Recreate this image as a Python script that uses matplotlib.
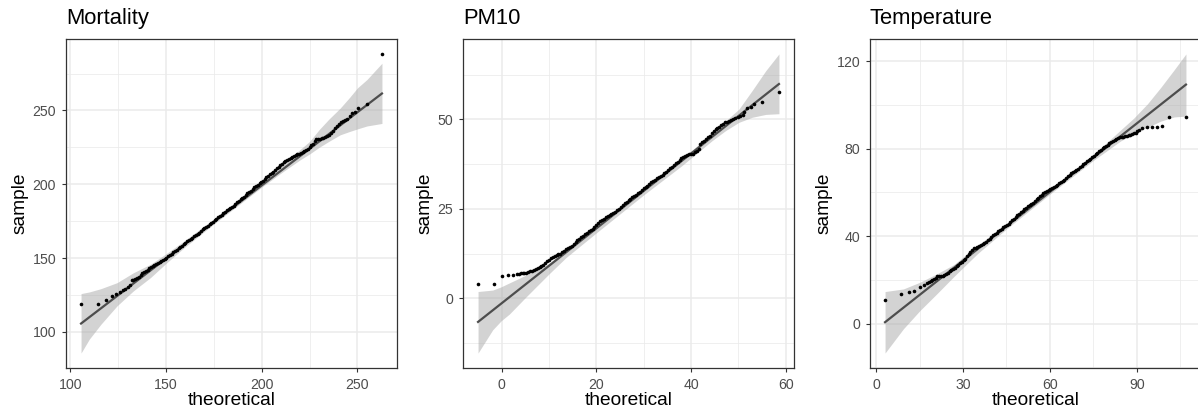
import numpy as np
import matplotlib
matplotlib.use("Agg")
import matplotlib.pyplot as plt
from matplotlib.ticker import MultipleLocator

plt.rcParams['font.family'] = ['Liberation Sans', 'DejaVu Sans']

# ---- Mortality ----
mort_theo = [
    105.7, 114.4, 118.9, 121.7, 124.0, 126.0, 127.6, 128.9, 130.2, 131.3,
    132.1, 133.0, 134.0, 135.0, 135.9, 136.8, 137.7, 138.6, 139.5, 140.4,
    141.3, 142.2, 143.1, 144.0, 144.9, 145.8, 146.7, 147.6, 148.5, 149.4,
    150.3, 151.2, 152.1, 153.0, 153.9, 154.8, 155.7, 156.6, 157.5, 158.4,
    159.3, 160.2, 161.1, 162.0, 162.9, 163.8, 164.7, 165.6, 166.5, 167.4,
    168.3, 169.2, 170.1, 171.0, 171.9, 172.8, 173.7, 174.6, 175.5, 176.4,
    177.3, 178.2, 179.1, 180.0, 180.9, 181.8, 182.7, 183.6, 184.5, 185.4,
    186.3, 187.2, 188.1, 189.0, 189.9, 190.8, 191.7, 192.6, 193.5, 194.4,
    195.3, 196.2, 197.1, 198.0, 198.9, 199.8, 200.7, 201.6, 202.5, 203.4,
    204.3, 205.2, 206.1, 207.0, 207.9, 208.8, 209.7, 210.6, 211.5, 212.4,
    213.3, 214.2, 215.1, 216.0, 216.9, 217.8, 218.7, 219.6, 220.5, 221.4,
    222.3, 223.2, 224.1, 225.0, 225.9, 226.8, 227.7, 228.6, 229.5, 230.4,
    231.3, 232.2, 233.1, 234.0, 235.0, 236.2, 237.3, 238.4, 239.4, 240.4,
    241.3, 242.3, 243.4, 244.6, 245.9, 247.2, 248.6, 250.3, 254.8, 262.8]
mort_sample = [
    119.1, 119.1, 121.4, 124.1, 125.4, 127.2, 128.0, 129.2, 130.4, 131.6,
    135.0, 135.4, 136.0, 136.7, 137.3, 138.4, 139.8, 140.6, 141.4, 142.0,
    143.4, 144.2, 144.8, 145.4, 146.2, 146.8, 147.4, 148.2, 148.8, 149.6,
    150.2, 151.2, 152.0, 152.8, 153.8, 154.8, 155.7, 156.6, 157.6, 158.4,
    159.4, 160.4, 161.4, 162.3, 163.0, 163.8, 164.6, 165.4, 166.2, 167.2,
    168.4, 169.4, 170.4, 171.2, 172.0, 172.8, 173.8, 174.6, 175.6, 176.6,
    177.6, 178.4, 179.2, 180.2, 181.2, 182.4, 183.2, 184.0, 184.6, 185.4,
    186.6, 187.8, 188.8, 189.8, 190.8, 191.6, 192.6, 193.8, 194.6, 195.6,
    196.8, 197.8, 198.8, 199.8, 200.6, 201.4, 202.4, 203.6, 204.8, 205.6,
    206.8, 207.6, 208.6, 209.8, 210.8, 211.8, 213.0, 214.0, 214.8, 215.8,
    216.6, 217.2, 217.8, 218.6, 219.2, 219.8, 220.2, 220.6, 221.2, 221.8,
    222.6, 223.4, 224.2, 225.4, 226.4, 227.6, 229.0, 230.4, 230.8, 231.0,
    231.2, 231.4, 231.8, 232.6, 233.4, 234.6, 236.4, 238.2, 239.2, 240.6,
    242.2, 242.8, 243.4, 244.3, 246.4, 248.2, 249.0, 251.5, 254.3, 288.3]
mort_line_x = [105.7, 262.8]
mort_line_y = [105.6, 261.5]
mort_band_x = [105.7, 110.0, 116.0, 124.5, 133.0, 142.0, 150.0, 160.0, 175.0,
               190.0, 200.0, 210.0, 220.0, 225.0, 230.0, 235.0, 241.0, 246.0,
               250.0, 255.0, 262.8]
mort_band_lo = [85.6, 95.0, 105.0, 117.6, 127.7, 136.8, 146.3, 157.5, 173.0,
                188.0, 198.0, 207.5, 216.5, 220.5, 225.0, 229.0, 233.5, 235.8,
                237.5, 239.5, 241.2]
mort_band_hi = [125.9, 127.0, 129.2, 133.3, 140.0, 145.8, 152.8, 162.0, 176.5,
                191.5, 201.5, 212.0, 223.5, 229.0, 237.0, 244.0, 251.6, 259.0,
                265.3, 271.0, 282.0]

# ---- PM10 ----
pm10_theo = [
    -5.0, -1.55, 0.08, 1.41, 2.32, 3.16,
    3.6, 4.0, 4.4, 4.8, 5.2, 5.6, 6.0, 6.4, 6.8, 7.2, 7.6, 8.0, 8.4, 8.8,
    9.2, 9.6, 10.0, 10.4, 10.8, 11.2, 11.6, 12.0, 12.4, 12.8, 13.2, 13.6,
    14.0, 14.4, 14.8, 15.2, 15.6, 16.0, 16.4, 16.8, 17.2, 17.6, 18.0, 18.4,
    18.8, 19.2, 19.6, 20.0, 20.4, 20.8, 21.2, 21.6, 22.0, 22.4, 22.8, 23.2,
    23.6, 24.0, 24.4, 24.8, 25.2, 25.6, 26.0, 26.4, 26.8, 27.2, 27.6, 28.0,
    28.4, 28.8, 29.2, 29.6, 30.0, 30.4, 30.8, 31.2, 31.6, 32.0, 32.4, 32.8,
    33.2, 33.6, 34.0, 34.4, 34.8, 35.2, 35.6, 36.0, 36.4, 36.8, 37.2, 37.6,
    38.0, 38.4, 38.8, 39.2, 39.6, 40.0, 40.4, 40.8, 41.2, 41.6, 42.0, 42.4,
    42.8, 43.2, 43.6, 44.0, 44.4, 44.8, 45.2, 45.6, 46.0, 46.4, 46.8, 47.2,
    47.6, 48.0, 48.4, 48.9, 49.4, 49.9, 50.4, 50.9, 51.3, 51.9, 52.6, 53.4,
    55.1, 58.6]
pm10_sample = [
    3.9, 4.1, 6.1, 6.4, 6.6, 6.9,
    6.9, 7.0, 7.0, 7.1, 7.2, 7.3, 7.5, 7.7, 7.9, 8.2, 8.5, 8.8, 9.1, 9.4,
    9.9, 10.4, 10.8, 11.2, 11.6, 11.9, 12.1, 12.3, 12.5, 12.9, 13.3, 13.7,
    14.0, 14.3, 14.7, 15.1, 15.6, 16.2, 16.7, 17.1, 17.5, 17.9, 18.3, 18.7,
    19.1, 19.5, 20.0, 20.5, 21.0, 21.5, 21.8, 22.2, 22.6, 22.9, 23.2, 23.5,
    23.9, 24.2, 24.7, 25.1, 25.6, 26.1, 26.6, 27.0, 27.4, 27.8, 28.2, 28.6,
    29.0, 29.4, 29.8, 30.3, 30.7, 31.1, 31.5, 31.9, 32.4, 32.8, 33.2, 33.6,
    34.0, 34.3, 34.6, 35.0, 35.4, 35.8, 36.3, 36.8, 37.3, 37.8, 38.2, 38.7,
    39.1, 39.5, 39.9, 40.1, 40.2, 40.3, 40.4, 40.8, 41.2, 41.8, 43.0, 43.6,
    44.1, 44.6, 45.0, 45.5, 46.1, 46.8, 47.4, 47.7, 48.0, 48.4, 48.8, 49.2,
    49.4, 49.6, 49.8, 50.0, 50.3, 50.6, 51.0, 51.2, 52.0, 53.2, 53.6, 54.2,
    55.0, 57.7]
pm10_line_x = [-5.0, 58.6]
pm10_line_y = [-6.6, 59.9]
pm10_band_x = [-5.0, -1.9, -0.13, 1.62, 5.15, 10.06, 13.6, 20.0, 30.0, 38.0,
               44.5, 47.35, 50.15, 52.95, 55.8, 58.6]
pm10_band_lo = [-15.3, -8.8, -6.3, -4.4, 0.4, 6.9, 11.4, 18.3, 28.9, 37.0,
                44.1, 46.9, 49.2, 50.6, 51.4, 51.6]
pm10_band_hi = [1.9, 2.3, 3.2, 4.3, 6.5, 9.8, 13.6, 19.9, 30.4, 38.9,
                46.2, 49.6, 52.9, 58.1, 63.6, 68.3]

# ---- Temperature ----
temp_theo = [
    3.1, 8.65, 11.5, 13.25, 15.0, 16.4, 17.5,
    18.2, 18.8, 19.4, 20.0, 20.6, 21.2, 21.8, 22.4, 23.0, 23.6, 24.2, 24.8,
    25.4, 26.0, 26.6, 27.2, 27.8, 28.4, 29.0, 29.6, 30.2, 30.8, 31.4, 32.0,
    32.6, 33.2, 33.8, 34.4, 35.0, 35.6, 36.2, 36.8, 37.4, 38.0, 38.6, 39.2,
    39.8, 40.4, 41.0, 41.6, 42.2, 42.8, 43.4, 44.0, 44.6, 45.2, 45.8, 46.4,
    47.0, 47.6, 48.2, 48.8, 49.4, 50.0, 50.6, 51.2, 51.8, 52.4, 53.0, 53.6,
    54.2, 54.8, 55.4, 56.0, 56.6, 57.2, 57.8, 58.4, 59.0, 59.6, 60.2, 60.8,
    61.4, 62.0, 62.6, 63.2, 63.8, 64.4, 65.0, 65.6, 66.2, 66.8, 67.4, 68.0,
    68.6, 69.2, 69.8, 70.4, 71.0, 71.6, 72.2, 72.8, 73.4, 74.0, 74.6, 75.2,
    75.8, 76.4, 77.0, 77.6, 78.2, 78.8, 79.4, 80.0, 80.6, 81.2, 81.8, 82.4,
    83.0, 83.6, 84.2, 84.8, 85.4, 86.0, 86.6, 87.2, 87.8, 88.4, 89.0, 89.6,
    90.2, 90.8, 91.7, 93.4, 95.2, 96.9, 98.8, 101.3, 107.0]
temp_sample = [
    10.9, 13.7, 14.6, 14.9, 16.7, 17.8, 18.5,
    19.0, 19.4, 19.9, 20.4, 20.9, 21.6, 21.8, 21.8, 21.9, 22.3, 22.8, 23.4,
    23.9, 24.5, 25.0, 25.6, 26.2, 26.9, 27.6, 28.2, 28.9, 29.8, 30.8, 31.8,
    32.8, 33.7, 34.4, 34.8, 35.1, 35.4, 35.8, 36.3, 36.8, 37.5, 38.1, 38.9,
    39.7, 40.4, 41.0, 41.6, 42.2, 42.8, 43.4, 44.0, 44.6, 45.2, 45.8, 46.5,
    47.2, 48.0, 48.8, 49.6, 50.3, 51.0, 51.7, 52.4, 53.0, 53.6, 54.2, 54.8,
    55.4, 56.1, 56.8, 57.5, 58.2, 58.9, 59.6, 60.2, 60.7, 61.1, 61.5, 62.0,
    62.5, 63.0, 63.5, 64.1, 64.7, 65.3, 65.9, 66.6, 67.3, 68.0, 68.7, 69.3,
    69.9, 70.4, 70.9, 71.5, 72.2, 72.8, 73.5, 74.2, 74.9, 75.5, 76.2, 76.8,
    77.5, 78.2, 78.8, 79.5, 80.1, 80.7, 81.3, 81.8, 82.4, 83.0, 83.6, 84.1,
    84.6, 85.0, 85.2, 85.3, 85.4, 85.6, 85.8, 86.1, 86.4, 86.7, 87.0, 87.4,
    87.9, 88.4, 89.6, 89.9, 89.9, 89.9, 90.4, 94.6, 94.6]
temp_line_x = [3.1, 107.0]
temp_line_y = [0.7, 109.3]
temp_band_x = [3.1, 9.45, 15.2, 21.0, 26.8, 35.0, 45.0, 60.0, 75.0, 84.4,
               89.0, 93.7, 98.3, 102.9, 107.0]
temp_band_lo = [-13.4, -2.3, 6.1, 13.7, 21.5, 32.0, 43.3, 59.2, 74.6, 83.5,
                87.0, 89.8, 92.6, 94.5, 94.9]
temp_band_hi = [14.7, 15.9, 19.0, 22.8, 27.0, 35.8, 45.7, 61.2, 77.2, 88.5,
                94.0, 100.5, 108.0, 116.0, 123.3]

panels = [
    ("Mortality", mort_theo, mort_sample, mort_line_x, mort_line_y,
     mort_band_x, mort_band_lo, mort_band_hi, 50, 50),
    ("PM10", pm10_theo, pm10_sample, pm10_line_x, pm10_line_y,
     pm10_band_x, pm10_band_lo, pm10_band_hi, 20, 25),
    ("Temperature", temp_theo, temp_sample, temp_line_x, temp_line_y,
     temp_band_x, temp_band_lo, temp_band_hi, 30, 40),
]

W, H = 1198, 417
fig = plt.figure(figsize=(W / 100, H / 100), dpi=100)
lefts = [66, 463, 870]
pw, top, bottom = 331, 39, 368

for left, (title, theo, samp, lx, ly, bx, blo, bhi, xstep, ystep) in zip(lefts, panels):
    ax = fig.add_axes([left / W, (H - bottom) / H, pw / W, (bottom - top) / H])
    ax.fill_between(bx, blo, bhi, color='#A8A8A8', alpha=0.5, lw=0, zorder=2)
    ax.plot(lx, ly, color='#4D4D4D', lw=1.6, zorder=3)
    ax.plot(theo, samp, ls='', marker='o', ms=2.6, mew=0, color='black', zorder=4)

    # ggplot-style 5% expansion
    x_all = list(theo) + list(bx)
    y_all = list(samp) + list(blo) + list(bhi)
    xr = max(x_all) - min(x_all)
    yr = max(y_all) - min(y_all)
    ax.set_xlim(min(x_all) - 0.05 * xr, max(x_all) + 0.05 * xr)
    ax.set_ylim(min(y_all) - 0.05 * yr, max(y_all) + 0.05 * yr)

    ax.xaxis.set_major_locator(MultipleLocator(xstep))
    ax.yaxis.set_major_locator(MultipleLocator(ystep))
    ax.xaxis.set_minor_locator(MultipleLocator(xstep / 2))
    ax.yaxis.set_minor_locator(MultipleLocator(ystep / 2))
    ax.grid(which='major', color='#EBEBEB', lw=1.1, zorder=0)
    ax.grid(which='minor', color='#EBEBEB', lw=0.55, zorder=0)
    ax.set_axisbelow(True)

    ax.tick_params(which='major', length=3, width=0.8, color='#333333',
                   labelsize=10.2, labelcolor='#4D4D4D', pad=4.2)
    ax.tick_params(which='minor', length=0)
    for s in ax.spines.values():
        s.set_color('#333333')
        s.set_linewidth(0.9)

    ax.set_xlabel("theoretical", fontsize=13.8, labelpad=0)
    ax.set_ylabel("sample", fontsize=13.8, labelpad=3)
    ax.set_title(title, loc='left', fontsize=15.8, pad=10.5)

fig.savefig("out.png", dpi=100)
